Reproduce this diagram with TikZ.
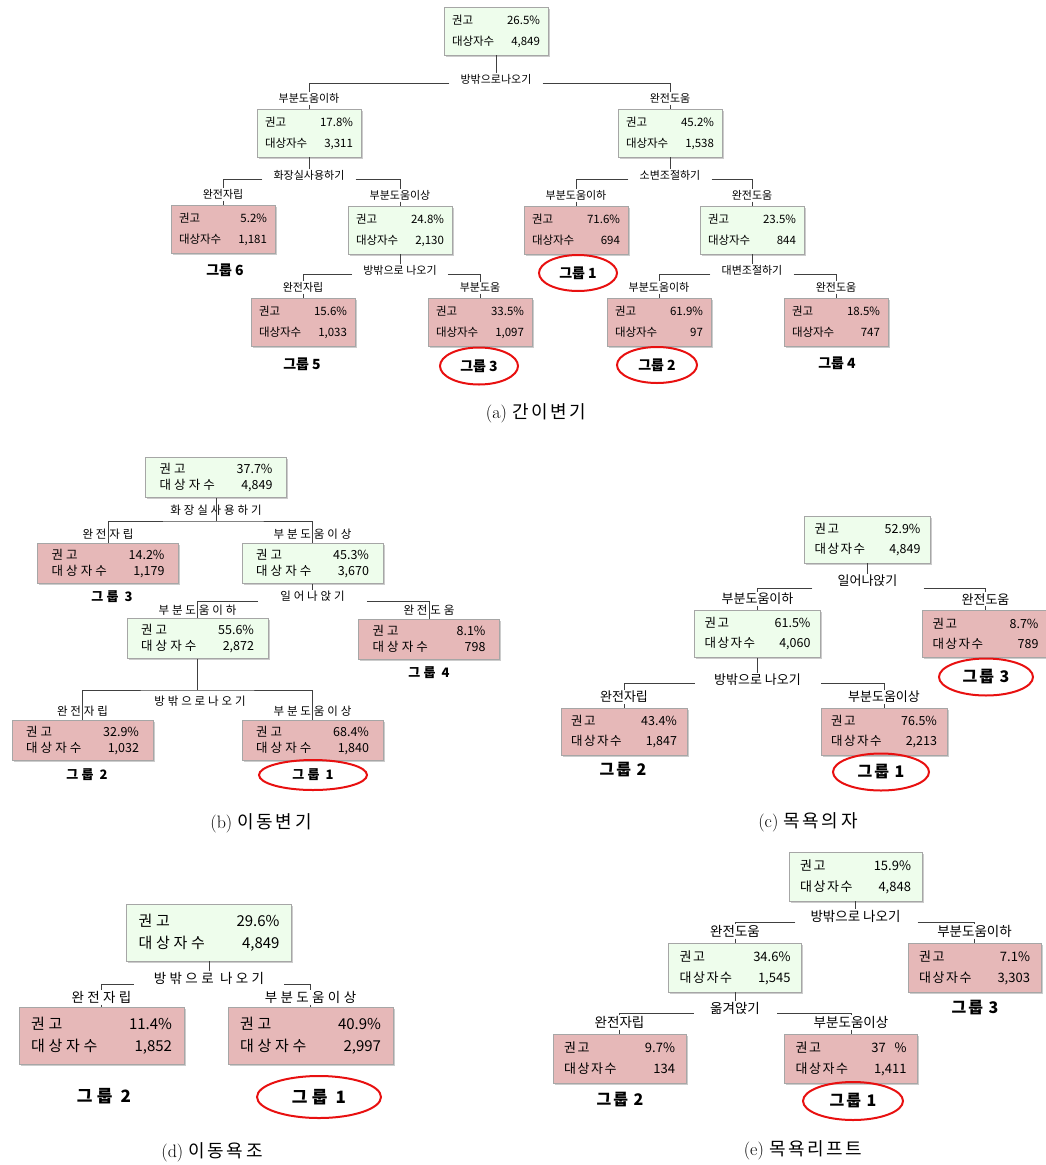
\documentclass[tikz,border=0pt]{standalone}
\usepackage{fontspec}
\newfontfamily\kr{Noto Sans CJK KR}
\newfontfamily\krs{Noto Sans CJK KR}[LetterSpace=12]
\newfontfamily\krw{Noto Sans CJK KR}[LetterSpace=25]
\newfontfamily\krc{Noto Sans CJK KR}[LetterSpace=14]
\usetikzlibrary{positioning,shapes.geometric,shadows}
\definecolor{leafpink}{RGB}{230,184,184}
\definecolor{nodegreen}{RGB}{238,253,236}
\definecolor{ringred}{RGB}{232,16,16}
% two rows of a tree node: share and count
\newcommand{\boxrows}[3][\kr]{{#1권고}\hfill #2\\{#1대상자수}\hfill #3}
\tikzset{
  box/.style={draw=black!35,line width=.6pt,align=left,inner ysep=0pt,
    drop shadow={shadow xshift=1.5pt,shadow yshift=-1.5pt,fill=black!25,opacity=.8}},
  gbox/.style={box,fill=nodegreen},
  rbox/.style={box,fill=leafpink},
  link/.style={draw=black!75,line width=1pt},
  ring/.style={ellipse,draw=ringred,line width=2pt,inner sep=0pt},
  captext/.style={font=\fontsize{18}{20}\selectfont},
}
\begin{document}
\begin{tikzpicture}[x=1pt,y=-1pt,
  % sizes of each panel
  pa/.style={font=\kr\fontsize{11.5}{21}\selectfont,text width=88pt,inner xsep=8pt,minimum height=48pt},
  la/.style={font=\kr\fontsize{11}{12}\selectfont,inner sep=1pt},
  ga/.style={font=\kr\bfseries\fontsize{14}{16}\selectfont},
  pb/.style={font=\kr\fontsize{12.5}{16}\selectfont,text width=113pt,inner xsep=14pt,minimum height=40pt},
  lb/.style={font=\krw\fontsize{11.5}{12}\selectfont,inner sep=1pt},
  gb/.style={font=\krw\bfseries\fontsize{13}{15}\selectfont},
  pc/.style={font=\kr\fontsize{12.5}{20}\selectfont,text width=106pt,inner xsep=10pt,minimum height=47pt},
  lc/.style={font=\kr\fontsize{13}{14}\selectfont,inner sep=1pt},
  gc/.style={font=\krs\bfseries\fontsize{16}{18}\selectfont},
  pd/.style={font=\kr\fontsize{15}{22}\selectfont,text width=141pt,inner xsep=12pt,minimum height=57pt},
  ld/.style={font=\krw\fontsize{13.5}{15}\selectfont,inner sep=1pt},
  gd/.style={font=\krw\bfseries\fontsize{17}{19}\selectfont},
  pe/.style={font=\kr\fontsize{13}{21}\selectfont,text width=111pt,inner xsep=11pt,minimum height=49pt},
  le/.style={font=\kr\fontsize{13.5}{15}\selectfont,inner sep=1pt},
  ge/.style={font=\krs\bfseries\fontsize{16}{18}\selectfont}]
  \useasboundingbox (0,0) rectangle (1046,1165);

  % (a)
  \node[gbox,pa] (a0) at (496,31) {\boxrows{26.5\%}{4,849}};
  \node[gbox,pa] (a1) at (309,133) {\boxrows{17.8\%}{3,311}};
  \node[gbox,pa] (a2) at (670,133) {\boxrows{45.2\%}{1,538}};
  \node[rbox,pa] (a3) at (223,229) {\boxrows{5.2\%}{1,181}};
  \node[gbox,pa] (a4) at (400,230) {\boxrows{24.8\%}{2,130}};
  \node[rbox,pa] (a5) at (576,230) {\boxrows{71.6\%}{694}};
  \node[gbox,pa] (a6) at (752,230) {\boxrows{23.5\%}{844}};
  \node[rbox,pa] (a7) at (303,322) {\boxrows{15.6\%}{1,033}};
  \node[rbox,pa] (a8) at (480,322) {\boxrows{33.5\%}{1,097}};
  \node[rbox,pa] (a9) at (659,322) {\boxrows{61.9\%}{97}};
  \node[rbox,pa] (a10) at (836,322) {\boxrows{18.5\%}{747}};

  \node[la] (a0s) at (496,79) {방밖으로나오기};
  \node[la] (a1s) at (309,175) {화장실사용하기};
  \node[la] (a2s) at (670,175) {소변조절하기};
  \node[la] (a4s) at (400,270) {방밖으로 나오기};
  \node[la] (a6s) at (752,270) {대변조절하기};

  \node[la,above=4pt of a1] (a1t) {부분도움이하};
  \node[la,above=4pt of a2] (a2t) {완전도움};
  \node[la,above=4pt of a3] (a3t) {완전자립};
  \node[la,above=4pt of a4] (a4t) {부분도움이상};
  \node[la,above=4pt of a5] (a5t) {부분도움이하};
  \node[la,above=4pt of a6] (a6t) {완전도움};
  \node[la,above=4pt of a7] (a7t) {완전자립};
  \node[la,above=4pt of a8] (a8t) {부분도움};
  \node[la,above=4pt of a9] (a9t) {부분도움이하};
  \node[la,above=4pt of a10] (a10t) {완전도움};

  \foreach \p/\s/\l/\r in {a0/a0s/a1t/a2t,a1/a1s/a3t/a4t,a2/a2s/a5t/a6t,a4/a4s/a7t/a8t,a6/a6s/a9t/a10t}{
    \draw[link] (\p) -- (\s);
    \draw[link] ([xshift=-10pt,yshift=-4pt]\s.west) -| (\l);
    \draw[link] ([xshift=10pt,yshift=-4pt]\s.east) -| (\r);
  }
  \foreach \n in {1,...,10}
    \draw[link] (a\n t) -- (a\n);

  \node[ga] (ga3) at (225,270) {그룹 6};
  \node[ga,ring,minimum width=78pt,minimum height=36pt] (ga5) at (578,273) {그룹 1};
  \node[ga] (ga7) at (302,364) {그룹 5};
  \node[ga,ring,minimum width=78pt,minimum height=37pt] (ga8) at (479,366) {그룹 3};
  \node[ga,ring,minimum width=80pt,minimum height=36pt] (ga9) at (657,365) {그룹 2};
  \node[ga] (ga10) at (837,363) {그룹 4};
  \node[captext] (capa) at (536,413) {(a)\ {\krc 간이변기}};

  % (b)
  \node[gbox,pb] (b0) at (216,477.5) {\boxrows[\krw]{37.7\%}{4,849}};
  \node[rbox,pb] (b1) at (108,563.5) {\boxrows[\krw]{14.2\%}{1,179}};
  \node[gbox,pb] (b2) at (312.5,563.5) {\boxrows[\krw]{45.3\%}{3,670}};
  \node[gbox,pb] (b3) at (197.5,638.5) {\boxrows[\krw]{55.6\%}{2,872}};
  \node[rbox,pb] (b4) at (429,639) {\boxrows[\krw]{8.1\%}{798}};
  \node[rbox,pb] (b5) at (82.5,740.5) {\boxrows[\krw]{32.9\%}{1,032}};
  \node[rbox,pb] (b6) at (312.5,740.5) {\boxrows[\krw]{68.4\%}{1,840}};

  \node[lb] (b0s) at (216,510) {화장실사용하기};
  \node[lb] (b2s) at (312.5,596) {일어나앉기};
  \node[lb] (b3s) at (200,701) {방밖으로나오기};
  \node[lb,above=3pt of b1] (b1t) {완전자립};
  \node[lb,above=3pt of b2] (b2t) {부분도움이상};
  \node[lb,above=2pt of b3] (b3t) {부분도움이하};
  \node[lb,above=2pt of b4] (b4t) {완전도움};
  \node[lb,above=3pt of b5] (b5t) {완전자립};
  \node[lb,above=3pt of b6] (b6t) {부분도움이상};

  \coordinate (bj0) at (216,521);
  \coordinate (bj3) at (197.5,690);
  \draw[link] (b0) -- (bj0);
  \draw[link] (b1) |- (bj0) -| (b2);
  \draw[link] (b2) -- (b2s);
  \draw[link] ([xshift=-21pt,yshift=-5pt]b2s.west) -| (b3);
  \draw[link] ([xshift=21pt,yshift=-5pt]b2s.east) -| (b4);
  \draw[link] (b3) -- (bj3);
  \draw[link] (b5) |- (bj3) -| (b6);

  \node[gb] (gb1) at (112,597) {그룹 3};
  \node[gb] (gb4) at (429,673) {그룹 4};
  \node[gb] (gb5) at (87,775) {그룹 2};
  \node[gb,ring,minimum width=108pt,minimum height=30pt] (gb6) at (313,775) {그룹 1};
  \node[captext] (capb) at (261,823) {(b)\ {\krc 이동변기}};

  % (c)
  \node[gbox,pc] (c0) at (867.5,539.5) {\boxrows[\krs]{52.9\%}{4,849}};
  \node[gbox,pc] (c1) at (757.5,634) {\boxrows[\krs]{61.5\%}{4,060}};
  \node[rbox,pc] (c2) at (985.5,634) {\boxrows[\krs]{8.7\%}{789}};
  \node[rbox,pc] (c3) at (624,732) {\boxrows[\krs]{43.4\%}{1,847}};
  \node[rbox,pc] (c4) at (884,732) {\boxrows[\krs]{76.5\%}{2,213}};

  \node[lc] (c0s) at (867.5,581) {일어나앉기};
  \node[lc] (c1s) at (757.5,680) {방밖으로 나오기};
  \node[lc,above=4pt of c1] (c1t) {부분도움이하};
  \node[lc,above=4pt of c2] (c2t) {완전도움};
  \node[lc,above=4pt of c3] (c3t) {완전자립};
  \node[lc,above=4pt of c4] (c4t) {부분도움이상};

  \draw[link] (c0) -- (c0s);
  \draw[link] ([xshift=-24pt,yshift=-7pt]c0s.west) -| (c1t);
  \draw[link] ([xshift=25pt,yshift=-7pt]c0s.east) -| (c2t);
  \draw[link] (c1) -- (c1s);
  \draw[link] ([xshift=-18pt,yshift=-3pt]c1s.west) -| (c3t);
  \draw[link] ([xshift=19pt,yshift=-3pt]c1s.east) -| (c4t);
  \foreach \n in {1,...,4}
    \draw[link] (c\n t) -- (c\n);

  \node[gc,ring,minimum width=94pt,minimum height=37pt] (gc2) at (986,677) {그룹 3};
  \node[gc] (gc3) at (623,770) {그룹 2};
  \node[gc,ring,minimum width=96pt,minimum height=37pt] (gc4) at (881,772) {그룹 1};
  \node[captext] (capc) at (808,822) {(c)\ {\krc 목욕의자}};

  % (d)
  \node[gbox,pd] (d0) at (209,932.5) {\boxrows[\krw]{29.6\%}{4,849}};
  \node[rbox,pd] (d1) at (101.5,1035.5) {\boxrows[\krw]{11.4\%}{1,852}};
  \node[rbox,pd] (d2) at (310.5,1035.5) {\boxrows[\krw]{40.9\%}{2,997}};

  \node[ld] (d0s) at (209,978) {방밖으로 나오기};
  \node[ld,above=2pt of d1] (d1t) {완전자립};
  \node[ld,above=2pt of d2] (d2t) {부분도움이상};

  \draw[link] (d0) -- (d0s);
  \draw[link] ([xshift=-19pt,yshift=-6pt]d0s.west) -| (d1t);
  \draw[link] ([xshift=19pt,yshift=-6pt]d0s.east) -| (d2t);
  \draw[link] (d1t) -- (d1);
  \draw[link] (d2t) -- (d2);

  \node[gd] (gd1) at (104,1096) {그룹 2};
  \node[gd,ring,minimum width=124pt,minimum height=42pt] (gd2) at (319,1097) {그룹 1};
  \node[captext] (capd) at (212,1152) {(d)\ {\krc 이동욕조}};

  % (e)
  \node[gbox,pe] (e0) at (855.5,876.5) {\boxrows[\krs]{15.9\%}{4,848}};
  \node[gbox,pe] (e1) at (735,967.5) {\boxrows[\krs]{34.6\%}{1,545}};
  \node[rbox,pe] (e2) at (974.5,967.5) {\boxrows[\krs]{7.1\%}{3,303}};
  \node[rbox,pe] (e3) at (619.5,1058.5) {\boxrows[\krs]{9.7\%}{134}};
  \node[rbox,pe] (e4) at (851,1058.5) {\boxrows[\krs]{37~~\%}{1,411}};

  \node[le] (e0s) at (855.5,916) {방밖으로 나오기};
  \node[le] (e1s) at (735,1008) {옮겨앉기};
  \node[le,above=4pt of e1] (e1t) {완전도움};
  \node[le,above=4pt of e2] (e2t) {부분도움이하};
  \node[le,above=4pt of e3] (e3t) {완전자립};
  \node[le,above=4pt of e4] (e4t) {부분도움이상};

  \draw[link] (e0) -- (e0s);
  \draw[link] ([xshift=-14pt,yshift=-6pt]e0s.west) -| (e1t);
  \draw[link] ([xshift=16pt,yshift=-6pt]e0s.east) -| (e2t);
  \draw[link] (e1) -- (e1s);
  \draw[link] ([xshift=-15pt,yshift=-5pt]e1s.west) -| (e3t);
  \draw[link] ([xshift=16pt,yshift=-5pt]e1s.east) -| (e4t);
  \foreach \n in {1,...,4}
    \draw[link] (e\n t) -- (e\n);

  \node[ge] (ge2) at (975,1008) {그룹 3};
  \node[ge] (ge3) at (620,1100) {그룹 2};
  \node[ge,ring,minimum width=100pt,minimum height=38pt] (ge4) at (853,1101) {그룹 1};
  \node[captext] (cape) at (803,1150) {(e)\ {\krc 목욕리프트}};
\end{tikzpicture}
\end{document}
